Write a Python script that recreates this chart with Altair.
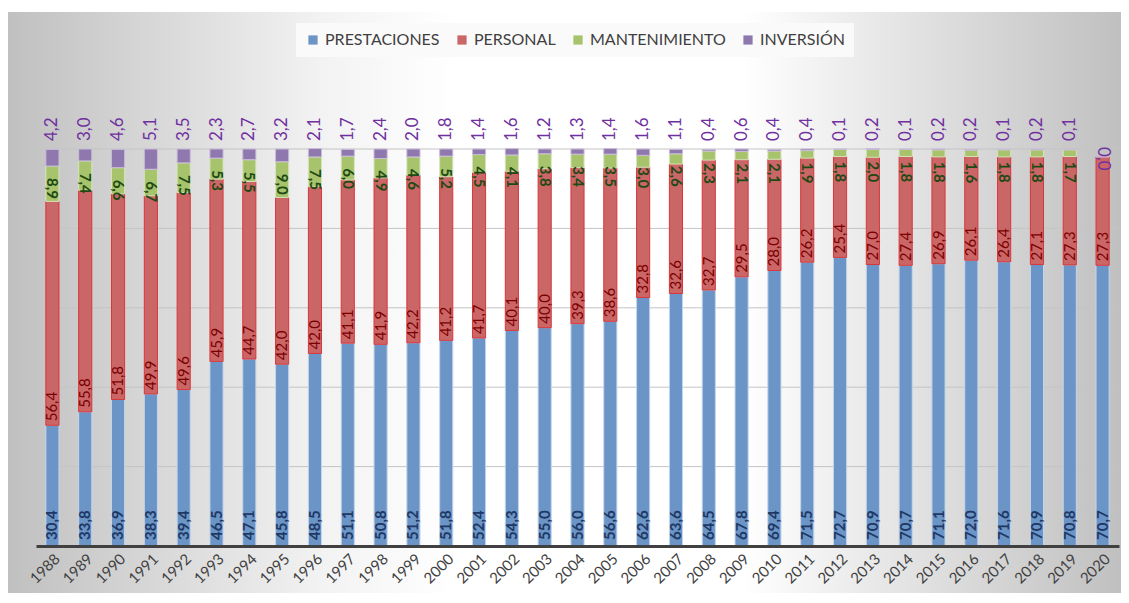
import altair as alt
import pandas as pd

years = [str(y) for y in range(1988, 2021)]
series = ["PRESTACIONES", "PERSONAL", "MANTENIMIENTO", "INVERSIÓN"]

prestaciones = [30.4, 33.8, 36.9, 38.3, 39.4, 46.5, 47.1, 45.8, 48.5, 51.1, 50.8, 51.2,
                51.8, 52.4, 54.3, 55.0, 56.0, 56.6, 62.6, 63.6, 64.5, 67.8,
                69.4, 71.5, 72.7, 70.9, 70.7, 71.1, 72.0, 71.6, 70.9, 70.8, 70.7]
personal = [56.4, 55.8, 51.8, 49.9, 49.6, 45.9, 44.7, 42.0, 42.0, 41.1, 41.9, 42.2,
            41.2, 41.7, 40.1, 40.0, 39.3, 38.6, 32.8, 32.6, 32.7, 29.5,
            28.0, 26.2, 25.4, 27.0, 27.4, 26.9, 26.1, 26.4, 27.1, 27.3, 27.3]
mantenimiento = [8.9, 7.4, 6.6, 6.7, 7.5, 5.3, 5.5, 9.0, 7.5, 6.0, 4.9, 4.6,
                 5.2, 4.5, 4.1, 3.8, 3.4, 3.5, 3.0, 2.6, 2.3, 2.1,
                 2.1, 1.9, 1.8, 2.0, 1.8, 1.8, 1.6, 1.8, 1.8, 1.7, None]
inversion = [4.2, 3.0, 4.6, 5.1, 3.5, 2.3, 2.7, 3.2, 2.1, 1.7, 2.4, 2.0,
             1.8, 1.4, 1.6, 1.2, 1.3, 1.4, 1.6, 1.1, 0.4, 0.6,
             0.4, 0.4, 0.1, 0.2, 0.1, 0.2, 0.2, 0.1, 0.2, 0.1, 0.0]
grid_values = [20, 40, 60, 80, 100]

fill_colors = ["#6b95c7", "#cb6667", "#a7c36c", "#8f78ae"]
stroke_colors = ["#c5d5ea", "#d9363a", "#d6e4bd", "#c9bcda"]

rows = []
for i, s in enumerate(series):
    vals = [prestaciones, personal, mantenimiento, inversion][i]
    for y, v in zip(years, vals):
        if v is None:
            continue
        rows.append({"year": y, "series": s, "ord": i, "value": v,
                     "lab": f"{v:.1f}".replace(".", ",")})
df = pd.DataFrame(rows)

W, H = 1083, 397
FONT = "Lato"
yscale = alt.Scale(domain=[0, 100], nice=False, zero=True)
xenc = alt.X("year:N", sort=years,
             scale=alt.Scale(paddingInner=0.6, paddingOuter=0.3),
             axis=alt.Axis(title=None, labelAngle=-45, labelFont=FONT, labelFontSize=15,
                           labelColor="#404040", ticks=False, domainColor="#404040",
                           domainWidth=3, grid=False, labelPadding=5, zindex=1))

base = alt.Chart(df).transform_stack(
    stack="value", groupby=["year"], sort=[alt.SortField("ord", order="ascending")],
    as_=["v0", "v1"])

bg = alt.Chart(pd.DataFrame({"a": [0]})).mark_rect(
    color=alt.LinearGradient(
        gradient="linear", x1=0, x2=1, y1=0, y2=0,
        stops=[alt.GradientStop(color="#c0c0c0", offset=0),
               alt.GradientStop(color="#f2f2f2", offset=0.28),
               alt.GradientStop(color="#ffffff", offset=0.40),
               alt.GradientStop(color="#ffffff", offset=0.66),
               alt.GradientStop(color="#ececec", offset=0.76),
               alt.GradientStop(color="#c0c0c0", offset=1)])
).encode(x=alt.value(-28), x2=alt.value(1085), y=alt.value(-137), y2=alt.value(444))

grid = alt.Chart(pd.DataFrame({"g": grid_values})).mark_rule(
    color="#c4c4c4", strokeWidth=1
).encode(y=alt.Y("g:Q", scale=yscale, axis=None))

bars = base.mark_bar(strokeWidth=1).encode(
    x=xenc,
    y=alt.Y("v0:Q", scale=yscale, axis=None),
    y2="v1:Q",
    fill=alt.Fill("series:N", sort=series, title=None,
                  scale=alt.Scale(domain=series, range=fill_colors),
                  legend=alt.Legend(orient="none", legendX=260, legendY=-126,
                                    direction="horizontal", symbolType="square",
                                    symbolSize=85, symbolStrokeWidth=0,
                                    labelFont=FONT, labelFontSize=16,
                                    labelColor="#404040", columnPadding=14,
                                    labelOffset=4, fillColor="#fafafa", padding=9)),
    stroke=alt.Stroke("series:N", scale=alt.Scale(domain=series, range=stroke_colors),
                      legend=None),
)

t_prest = base.transform_filter(alt.datum.series == "PRESTACIONES").mark_text(
    angle=270, align="left", baseline="middle", dx=6, font=FONT, fontSize=15,
    fontWeight="bold", color="#1f3864"
).encode(x=alt.X("year:N", sort=years), y=alt.Y("v0:Q", scale=yscale), text="lab:N")

t_pers = base.transform_filter(alt.datum.series == "PERSONAL").mark_text(
    angle=270, align="left", baseline="middle", dx=4, font=FONT, fontSize=15,
    color="#7a0000"
).encode(x=alt.X("year:N", sort=years), y=alt.Y("v0:Q", scale=yscale), text="lab:N")

t_mant = base.transform_filter(alt.datum.series == "MANTENIMIENTO").mark_text(
    angle=90, align="left", baseline="middle", dx=12, font=FONT, fontSize=15,
    fontWeight="bold", color="#1d4a14"
).encode(x=alt.X("year:N", sort=years), y=alt.Y("v1:Q", scale=yscale), text="lab:N")

t_inv = base.transform_filter(
    (alt.datum.series == "INVERSIÓN") & (alt.datum.value > 0)
).mark_text(
    angle=270, align="left", baseline="middle", dx=0, font=FONT, fontSize=17,
    color="#7030a0"
).encode(x=alt.X("year:N", sort=years), y=alt.datum(102.0), text="lab:N")

t_inv0 = base.transform_filter(
    (alt.datum.series == "INVERSIÓN") & (alt.datum.value == 0)
).mark_text(
    angle=90, align="left", baseline="middle", dx=-10, font=FONT, fontSize=17,
    color="#7030a0"
).encode(x=alt.X("year:N", sort=years), y=alt.Y("v1:Q", scale=yscale), text="lab:N")

chart = alt.layer(bg, grid, bars, t_prest, t_pers, t_mant, t_inv, t_inv0).properties(
    width=W, height=H,
    padding={"left": 28, "top": 141, "right": 2, "bottom": 49},
    autosize="none",
).configure_view(stroke=None).configure(background="#ffffff")

chart.save("out.html", embed_options={"renderer": "svg", "actions": False})
